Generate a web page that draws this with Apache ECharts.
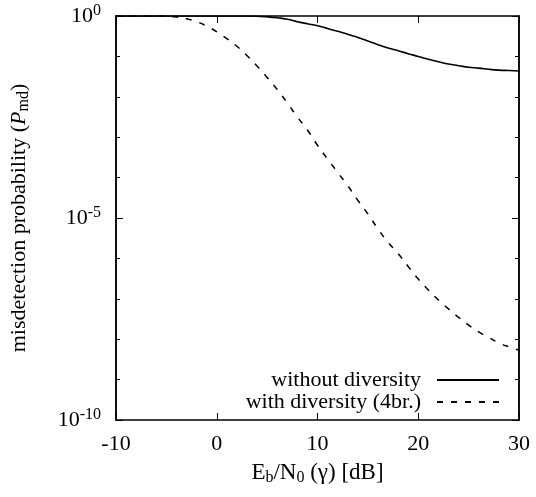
<!DOCTYPE html>
<html>
<head>
<meta charset="utf-8">
<script src="https://cdn.jsdelivr.net/npm/echarts@6/dist/echarts.min.js"></script>
<style>html,body{margin:0;padding:0;background:#fff;}#c{width:536px;height:497px;}</style>
</head>
<body>
<div id="c"></div>
<script>
const snrDb = [-10,-9,-8,-7,-6,-5,-4,-3,-2,-1,0,1,2,3,4,5,6,7,8,9,10,11,12,13,14,15,16,17,18,19,20,21,22,23,24,25,26,27,28,29,30];
const withoutDiversity = [1,1,1,1,1,1,1,1,1,1,1,1,1,0.999,0.99,0.955,0.902,0.832,0.724,0.646,0.575,0.490,0.417,0.355,0.295,0.240,0.195,0.162,0.138,0.117,0.100,0.0851,0.0741,0.0646,0.0589,0.0537,0.0513,0.0479,0.0457,0.0447,0.0437];
const withDiversity = [1,1,1,1,1,0.989,0.944,0.851,0.724,0.562,0.407,0.275,0.178,0.105,0.0575,0.0302,0.0151,7.08e-3,3.16e-3,1.51e-3,6.31e-4,2.88e-4,1.35e-4,6.31e-5,2.75e-5,1.26e-5,5.37e-6,2.51e-6,1.32e-6,6.31e-7,3.09e-7,1.66e-7,9.33e-8,5.62e-8,3.47e-8,2.24e-8,1.51e-8,1.10e-8,8.13e-9,6.46e-9,5.37e-9];
const seriesNames = ['without diversity', 'with diversity (4br.)'];
const xTicks = {min: -10, max: 30, step: 10};
const yLabelExponents = [0, -5, -10];

const FONT = 'Liberation Serif';
const FS = 22;
const FS_SMALL = 16;
const black = '#000';
function pairs(xs, ys) { return xs.map((x, i) => [x, ys[i]]); }

const chart = echarts.init(document.getElementById('c'), null, {renderer: 'canvas'});
const baseY = {
  type: 'log', logBase: 10, min: 1e-10, max: 1,
  axisLine: {show: true, onZero: false, lineStyle: {color: black, width: 1.5}},
  splitLine: {show: false},
  axisLabel: {show: false}
};
const baseX = {
  type: 'value', min: xTicks.min, max: xTicks.max, interval: xTicks.step,
  axisLine: {show: true, onZero: false, lineStyle: {color: black, width: 1.5}},
  axisTick: {inside: true, length: 7, lineStyle: {color: black, width: 1}},
  splitLine: {show: false}
};
chart.setOption({
  animation: false,
  backgroundColor: '#fff',
  grid: {left: 116, right: 17, top: 16, bottom: 77, containLabel: false, outerBoundsMode: 'none'},
  legend: {
    orient: 'vertical', align: 'right', right: 36, top: 369, padding: 0,
    itemWidth: 62, itemHeight: 14, itemGap: 0,
    itemStyle: {opacity: 0},
    textStyle: {fontFamily: FONT, fontSize: FS, lineHeight: 22, color: black, padding: [0, 11, 0, 0]},
    data: seriesNames
  },
  xAxis: [
    Object.assign({}, baseX, {
      position: 'bottom',
      axisLabel: {show: true, fontFamily: FONT, fontSize: FS, color: black, margin: 13},
      name: 'E{sub|b}/N{sub|0} (γ) [dB]',
      nameLocation: 'middle', nameGap: 40,
      nameTextStyle: {fontFamily: FONT, fontSize: 23, color: black, lineHeight: 26,
        rich: {sub: {fontFamily: FONT, fontSize: FS_SMALL, lineHeight: 16, verticalAlign: 'bottom', color: black}}}
    }),
    Object.assign({}, baseX, {position: 'top', axisLabel: {show: false}})
  ],
  yAxis: [
    Object.assign({}, baseY, {
      position: 'left', interval: 5,
      axisTick: {inside: true, length: 7, lineStyle: {color: black, width: 1}},
      axisLabel: {
        show: true, margin: 15, fontFamily: FONT, fontSize: FS, color: black, lineHeight: 26,
        formatter: function (v) {
          const e = Math.round(Math.log10(v));
          return yLabelExponents.indexOf(e) >= 0 ? '10{sup|' + e + '}' : '';
        },
        rich: {sup: {fontFamily: FONT, fontSize: FS_SMALL, lineHeight: 16, verticalAlign: 'top', color: black}}
      },
      name: 'misdetection probability ({i|P}{sub|md})',
      nameLocation: 'middle', nameGap: 84,
      nameTextStyle: {fontFamily: FONT, fontSize: FS, color: black, lineHeight: 26,
        rich: {
          i: {fontFamily: FONT, fontSize: FS, fontStyle: 'italic', color: black},
          sub: {fontFamily: FONT, fontSize: FS_SMALL, lineHeight: 16, verticalAlign: 'bottom', color: black}
        }}
    }),
    Object.assign({}, baseY, {position: 'left', interval: 1,
      axisTick: {inside: true, length: 4, lineStyle: {color: black, width: 1}}}),
    Object.assign({}, baseY, {position: 'right', interval: 5,
      axisTick: {inside: true, length: 7, lineStyle: {color: black, width: 1}}}),
    Object.assign({}, baseY, {position: 'right', interval: 1,
      axisTick: {inside: true, length: 4, lineStyle: {color: black, width: 1}}})
  ],
  series: [
    {
      name: seriesNames[0], type: 'line', xAxisIndex: 0, yAxisIndex: 0,
      data: pairs(snrDb, withoutDiversity), smooth: true, symbol: 'none',
      itemStyle: {color: black},
      lineStyle: {color: black, width: 1.6, type: 'solid'}
    },
    {
      name: seriesNames[1], type: 'line', xAxisIndex: 0, yAxisIndex: 0,
      data: pairs(snrDb, withDiversity), smooth: true, symbol: 'none',
      itemStyle: {color: black},
      lineStyle: {color: black, width: 1.5, type: [6, 8]}
    }
  ]
});
</script>
</body>
</html>
